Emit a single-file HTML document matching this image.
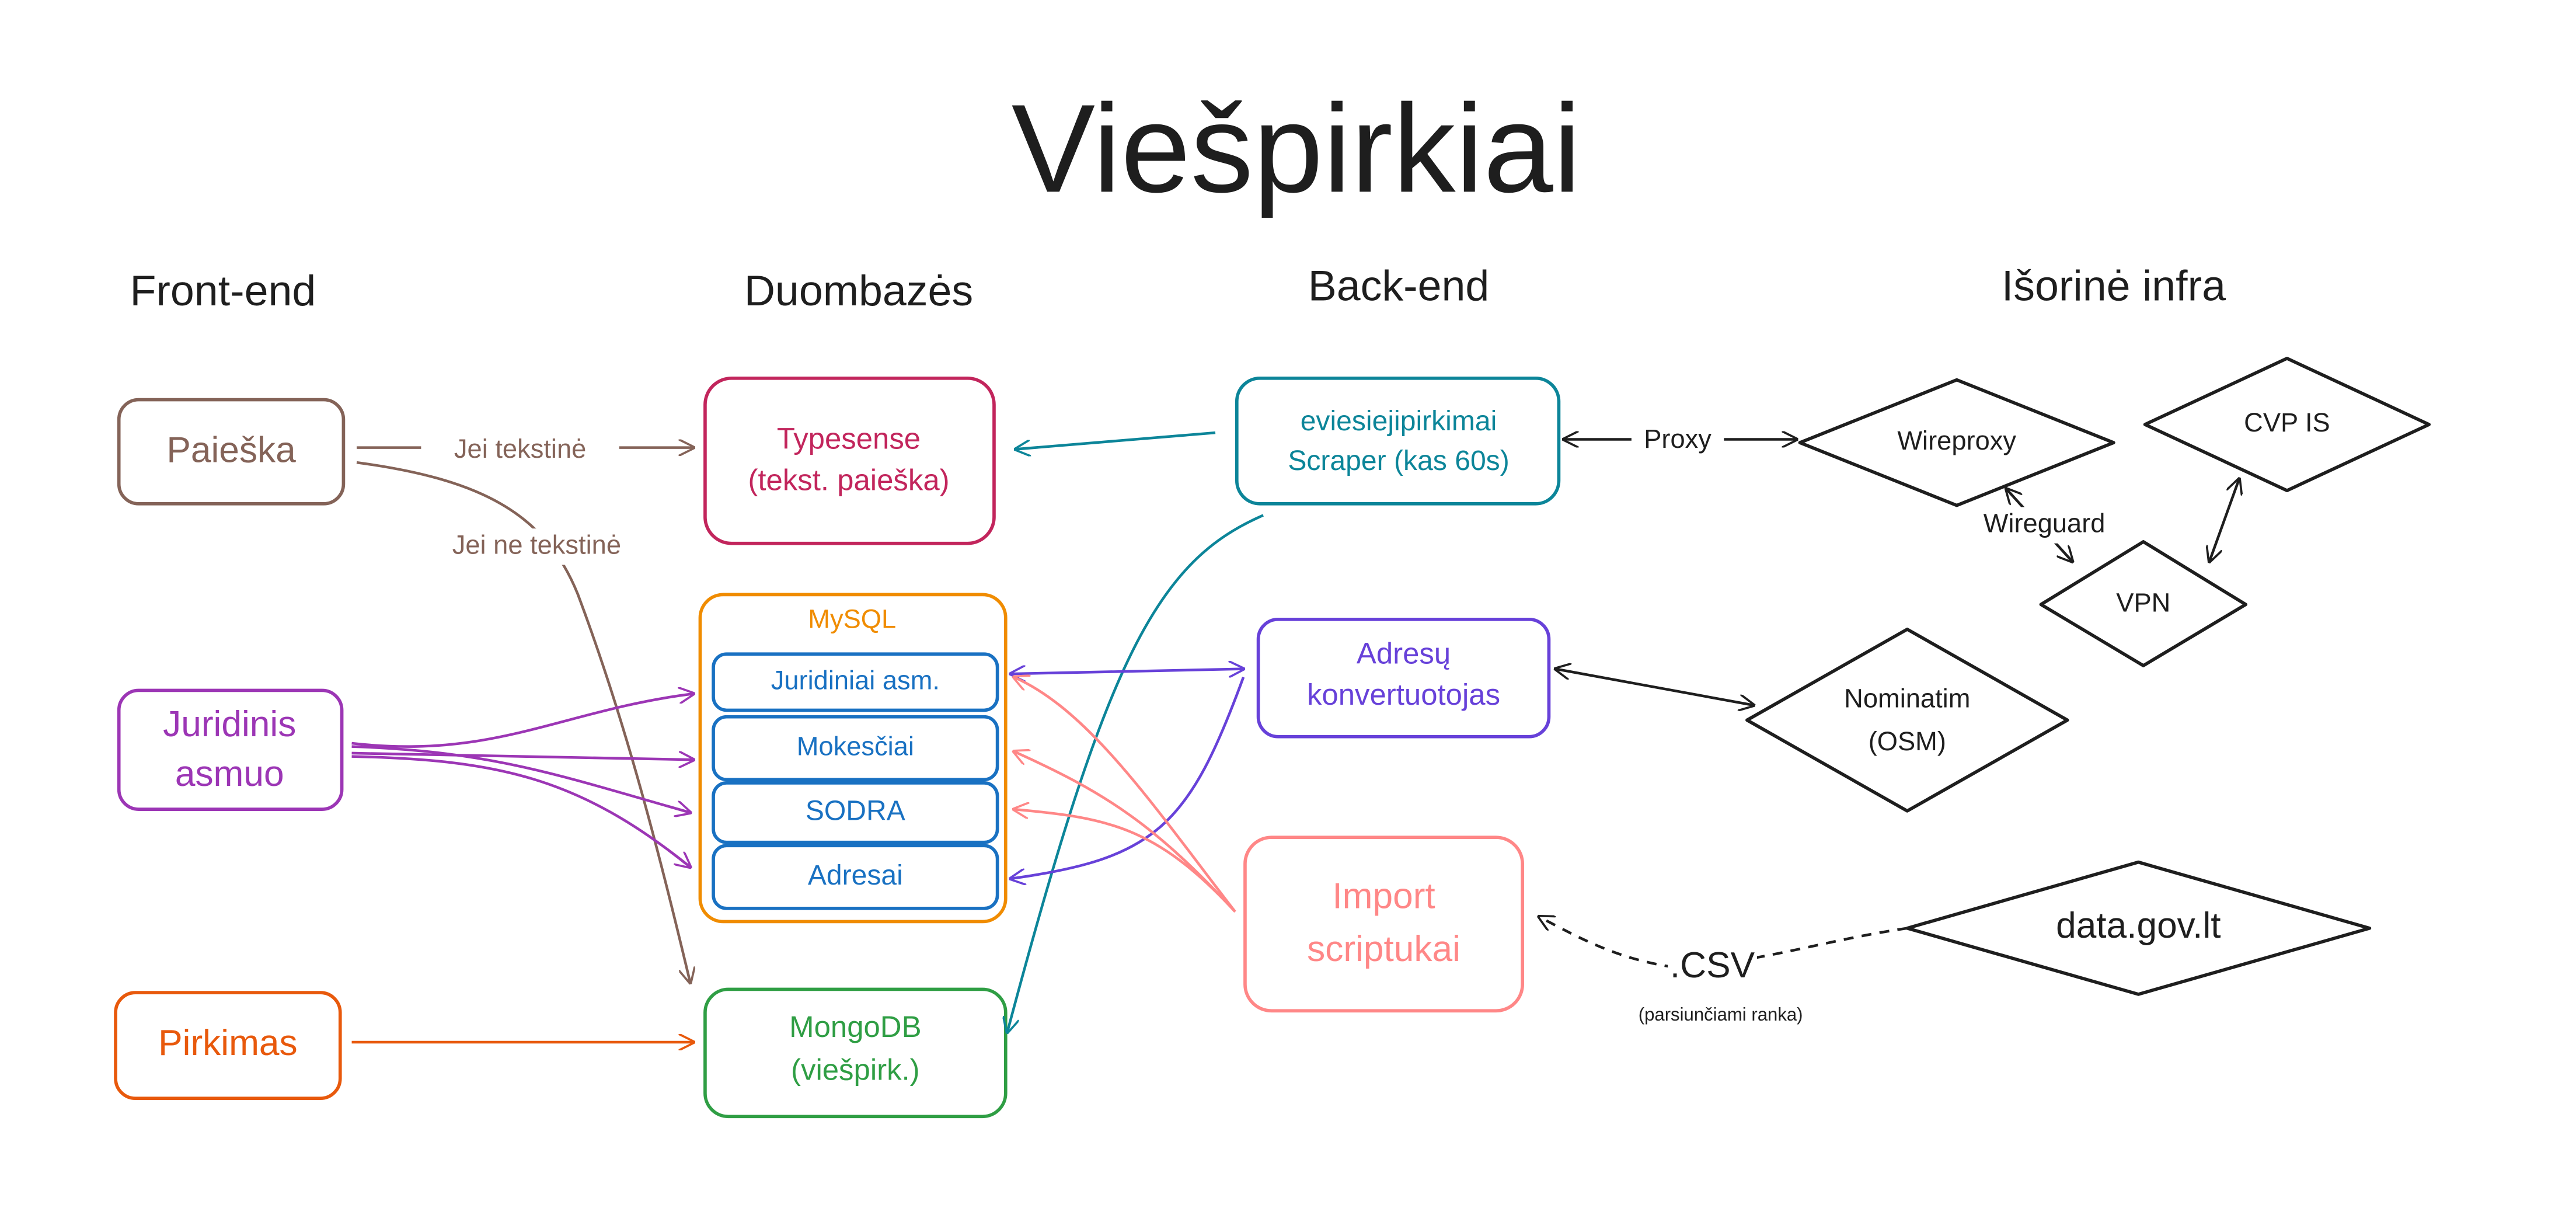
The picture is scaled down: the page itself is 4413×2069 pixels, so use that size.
<!DOCTYPE html>
<html><head><meta charset="utf-8"><style>
html,body{margin:0;padding:0;background:#fff;}
svg{display:block;}
text{font-family:"Liberation Sans",sans-serif;text-anchor:middle;dominant-baseline:middle;}
</style></head><body>
<svg width="4413" height="2069" viewBox="0 0 1560 731.4" xmlns="http://www.w3.org/2000/svg">
<defs>
<marker id="m" viewBox="0 0 10 10" refX="9" refY="5" markerWidth="10" markerHeight="10" orient="auto-start-reverse" markerUnits="userSpaceOnUse">
<path d="M0,0 L10,5 L0,10" fill="none" stroke="context-stroke" stroke-width="1.3"/></marker>
</defs>
<rect width="1560" height="731.4" fill="#fff"/>
<text x="785" y="96" font-size="76" fill="#1e1e1e">Viešpirkiai</text>
<g font-size="26" fill="#1e1e1e">
<text x="135" y="178">Front-end</text>
<text x="520" y="178">Duombazės</text>
<text x="847" y="175">Back-end</text>
<text x="1280" y="175">Išorinė infra</text>
</g>
<g fill="none" stroke-width="2">
<rect x="72" y="242" width="136" height="63" rx="12" stroke="#846358"/>
<rect x="427" y="229" width="175" height="100" rx="16" stroke="#c2255c"/>
<rect x="749" y="229" width="195" height="76" rx="14" stroke="#0c8599"/>
<rect x="424" y="360" width="185" height="198" rx="14" stroke="#f08c00"/>
<rect x="432" y="396" width="172" height="34" rx="8" stroke="#1971c2"/>
<rect x="432" y="434" width="172" height="38" rx="8" stroke="#1971c2"/>
<rect x="432" y="474" width="172" height="36" rx="8" stroke="#1971c2"/>
<rect x="432" y="512" width="172" height="38" rx="8" stroke="#1971c2"/>
<rect x="72" y="418" width="135" height="72" rx="12" stroke="#9c36b5"/>
<rect x="70" y="601" width="136" height="64" rx="12" stroke="#e8590c"/>
<rect x="427" y="599" width="182" height="77" rx="14" stroke="#2f9e44"/>
<rect x="762" y="375" width="176" height="71" rx="12" stroke="#6741d9"/>
<rect x="754" y="507" width="168" height="105" rx="16" stroke="#ff8787"/>
</g>
<g fill="none" stroke="#1e1e1e" stroke-width="2" stroke-linejoin="round">
<path d="M1090,268 L1185,230 L1280,268 L1185,306 Z"/>
<path d="M1299,257 L1385,217 L1471,257 L1385,297 Z"/>
<path d="M1236,366 L1298,328 L1360,366 L1298,403 Z"/>
<path d="M1058,436 L1155,381 L1252,436 L1155,491 Z"/>
<path d="M1155,562 L1295,522 L1435,562 L1295,602 Z"/>
</g>
<g font-size="20">
<text x="140" y="274" fill="#846358" font-size="22">Paieška</text>
<text x="514" y="267" fill="#c2255c" font-size="18">Typesense</text>
<text x="514" y="292" fill="#c2255c" font-size="18">(tekst. paieška)</text>
<text x="847" y="256" fill="#0c8599" font-size="17">eviesiejipirkimai</text>
<text x="847" y="280" fill="#0c8599" font-size="17">Scraper (kas 60s)</text>
<text x="516" y="376" fill="#f08c00" font-size="16">MySQL</text>
<text x="518" y="413" fill="#1971c2" font-size="16">Juridiniai asm.</text>
<text x="518" y="453" fill="#1971c2" font-size="16">Mokesčiai</text>
<text x="518" y="492" fill="#1971c2" font-size="17">SODRA</text>
<text x="518" y="531" fill="#1971c2" font-size="17">Adresai</text>
<text x="139" y="440" fill="#9c36b5" font-size="22">Juridinis</text>
<text x="139" y="470" fill="#9c36b5" font-size="22">asmuo</text>
<text x="138" y="633" fill="#e8590c" font-size="22">Pirkimas</text>
<text x="518" y="623" fill="#2f9e44" font-size="18">MongoDB</text>
<text x="518" y="649" fill="#2f9e44" font-size="18">(viešpirk.)</text>
<text x="850" y="397" fill="#6741d9" font-size="18">Adresų</text>
<text x="850" y="422" fill="#6741d9" font-size="18">konvertuotojas</text>
<text x="838" y="544" fill="#ff8787" font-size="22">Import</text>
<text x="838" y="576" fill="#ff8787" font-size="22">scriptukai</text>
<text x="1185" y="268" fill="#1e1e1e" font-size="16">Wireproxy</text>
<text x="1385" y="257" fill="#1e1e1e" font-size="16">CVP IS</text>
<text x="1298" y="366" fill="#1e1e1e" font-size="16">VPN</text>
<text x="1155" y="424" fill="#1e1e1e" font-size="16">Nominatim</text>
<text x="1155" y="450" fill="#1e1e1e" font-size="16">(OSM)</text>
<text x="1295" y="562" fill="#1e1e1e" font-size="22">data.gov.lt</text>
</g>
<g fill="none" stroke-width="1.6" marker-end="url(#m)">
<path d="M216,271 L420,271" stroke="#846358"/>
<path d="M216,280 C290,290 330,310 350,360 C380,440 400,520 418,595" stroke="#846358"/>
<path d="M736,262 L615,272" stroke="#0c8599"/>
<path d="M765,312 C700,340 670,400 610,625" stroke="#0c8599"/>
<path d="M213,450 C300,460 340,430 420,420" stroke="#9c36b5"/>
<path d="M213,456 L420,460" stroke="#9c36b5"/>
<path d="M213,452 C300,455 340,470 418,492" stroke="#9c36b5"/>
<path d="M213,458 C300,460 350,470 418,525" stroke="#9c36b5"/>
<path d="M213,631 L420,631" stroke="#e8590c"/>
<path d="M612,408 L753,405" stroke="#6741d9" marker-start="url(#m)"/>
<path d="M753,410 C720,500 700,520 612,532" stroke="#6741d9"/>
<path d="M748,552 C700,490 660,430 614,410" stroke="#ff8787"/>
<path d="M748,552 C700,500 670,480 614,455" stroke="#ff8787"/>
<path d="M748,552 C700,500 670,495 614,490" stroke="#ff8787"/>
<path d="M947,266 L1088,266" stroke="#1e1e1e" marker-start="url(#m)"/>
<path d="M1215,296 L1255,340" stroke="#1e1e1e" marker-start="url(#m)"/>
<path d="M1338,340 L1356,290" stroke="#1e1e1e" marker-start="url(#m)"/>
<path d="M942,405 L1062,427" stroke="#1e1e1e" marker-start="url(#m)"/>
<path d="M1155,562 C1100,570 1060,585 1010,585 C980,580 960,570 932,555" stroke="#1e1e1e" stroke-dasharray="6,5"/>
</g>
<rect x="255" y="262" width="120" height="20" fill="#fff"/>
<text x="315" y="273" fill="#846358" font-size="16">Jei tekstinė</text>
<rect x="250" y="320" width="150" height="22" fill="#fff"/>
<text x="325" y="331" fill="#846358" font-size="16">Jei ne tekstinė</text>
<rect x="988" y="256" width="56" height="20" fill="#fff"/>
<text x="1016" y="267" fill="#1e1e1e" font-size="16">Proxy</text>
<rect x="1190" y="307" width="96" height="22" fill="#fff"/>
<text x="1238" y="318" fill="#1e1e1e" font-size="16">Wireguard</text>
<rect x="1010" y="573" width="54" height="26" fill="#fff"/>
<text x="1037" y="586" fill="#1e1e1e" font-size="22">.CSV</text>
<text x="1042" y="615" fill="#1e1e1e" font-size="11">(parsiunčiami ranka)</text>
</svg>
</body></html>
